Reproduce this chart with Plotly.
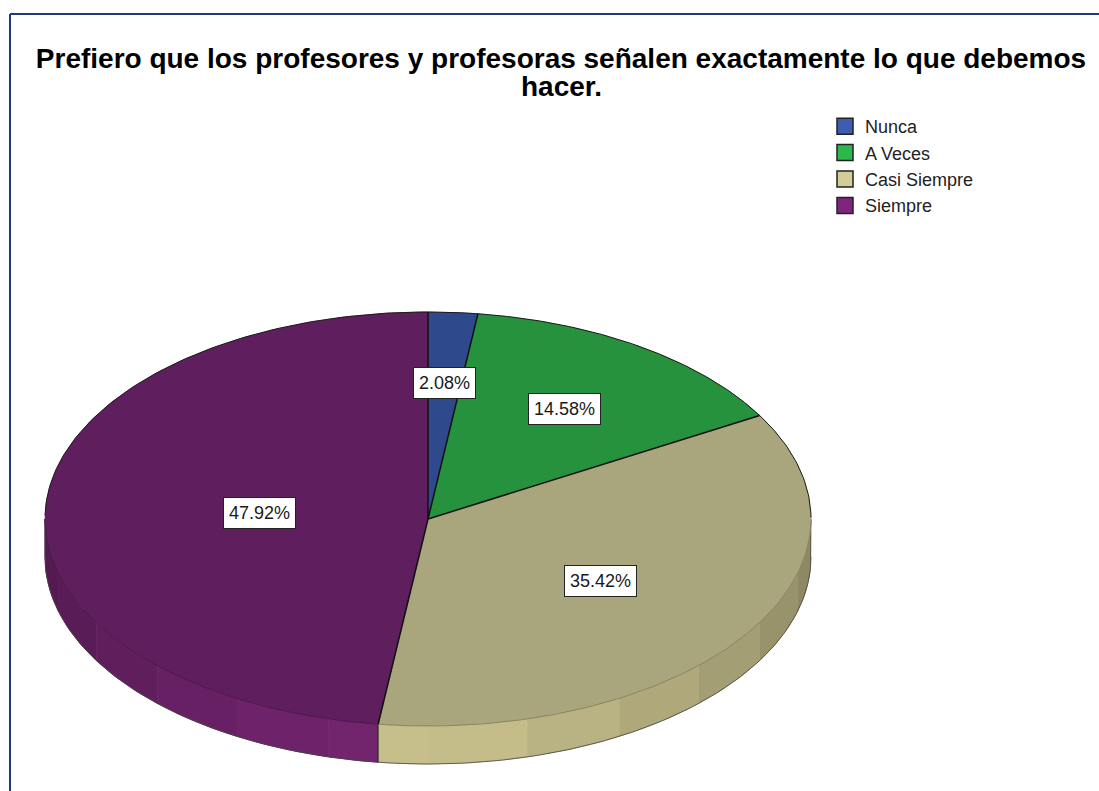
"""Pie chart with a tilted 3D look, in the style of an SPSS export."""

import numpy as np
import plotly.graph_objects as go

TITLE_LINES = ["Prefiero que los profesores y profesoras señalen exactamente lo que debemos", "hacer."]
categories = ["Nunca", "A Veces", "Casi Siempre", "Siempre"]
percentages = [2.08, 14.58, 35.42, 47.92]

top_colors = ["#2f4a8c", "#26923e", "#a9a57c", "#5f1f5f"]
side_colors = ["#3e5cb0", "#2db84d", "#c9c28d", "#772572"]
legend_colors = ["#3e5cb0", "#2db84d", "#d3ce97", "#7f2580"]

# Ellipse geometry in page pixels
CX, CY = 428, 519
RX, RY = 383, 207
DEPTH = 38
BAND_STEP = 15
# How far out each label sits, as a fraction of the radius
label_radius = [0.66, 0.64, 0.54, 0.44]
FONT = "Liberation Sans"


def ellipse(angles, drop=0):
    """Angles are degrees clockwise from the top of the pie."""
    rad = np.radians(angles)
    return CX + RX * np.sin(rad), CY - RY * np.cos(rad) + drop


def shade(color, factor):
    rgb = [int(color[i:i + 2], 16) for i in (1, 3, 5)]
    return "rgb({},{},{})".format(*[round(c * factor) for c in rgb])


def add_line(fig, x, y, color, width):
    fig.add_trace(go.Scatter(
        x=x, y=y, mode="lines",
        line=dict(color=color, width=width),
        hoverinfo="skip", showlegend=False,
    ))


fig = go.Figure()

edges = np.cumsum([0] + percentages) / sum(percentages) * 360

# Visible side wall, split into flat bands
for i in range(len(categories)):
    start, end = max(edges[i], 90), min(edges[i + 1], 270)
    if start >= end:
        continue
    cuts = [a for a in np.arange(90, 271, BAND_STEP) if start < a < end]
    steps = [start] + cuts + [end]
    for a0, a1 in zip(steps[:-1], steps[1:]):
        arc = np.linspace(a0, a1, 12)
        xt, yt = ellipse(arc)
        xb, yb = ellipse(arc[::-1], DEPTH)
        band = shade(side_colors[i], 1 - 0.32 * abs((a0 + a1) / 2 - 180) / 90)
        fig.add_trace(go.Scatter(
            x=np.concatenate([xt, xb]),
            y=np.concatenate([yt, yb]),
            mode="lines",
            fill="toself",
            fillcolor=band,
            line=dict(color=band, width=1),
            hoverinfo="skip",
            showlegend=False,
        ))

# Outline of the side wall
arc = np.linspace(90, 270, 200)
xb, yb = ellipse(arc, DEPTH)
xe, ye = ellipse(np.array([90.0]))
xw, yw = ellipse(np.array([270.0]))
add_line(fig, np.concatenate([xe, xb, xw]), np.concatenate([ye, yb, yw]), "#444444", 0.8)

# Side seam under the slice boundaries on the near half
for a in edges[1:-1]:
    if 90 < a < 270:
        xs, ys = ellipse(np.array([a, a]), np.array([0, DEPTH]))
        add_line(fig, xs, ys, "#222222", 1)

# Top face
for i, name in enumerate(categories):
    arc = np.linspace(edges[i], edges[i + 1], 160)
    xs, ys = ellipse(arc)
    fig.add_trace(go.Scatter(
        x=np.concatenate([[CX], xs, [CX]]),
        y=np.concatenate([[CY], ys, [CY]]),
        mode="lines",
        fill="toself",
        fillcolor=top_colors[i],
        line=dict(color=top_colors[i], width=0.5),
        name=name,
        text=f"{name}: {percentages[i]:.2f}%",
        hoverinfo="text",
        showlegend=False,
    ))

# Rim of the top face: dark on the far half, faint on the near half
for i in range(len(categories)):
    far = np.linspace(edges[i], edges[i + 1], 160)
    far = far[(far <= 90) | (far >= 270)]
    if far.size:
        xs, ys = ellipse(far)
        add_line(fig, xs, ys, "#1a1a1a", 1)
    near = np.linspace(edges[i], edges[i + 1], 160)
    near = near[(near > 90) & (near < 270)]
    if near.size:
        xs, ys = ellipse(near)
        add_line(fig, xs, ys, shade(top_colors[i], 0.75), 0.8)

# Spokes between the slices
for a in edges[:-1]:
    xs, ys = ellipse(np.array([a]))
    add_line(fig, [CX, xs[0]], [CY, ys[0]], "#111111", 1.5)

# Legend entries
for name, color in zip(categories, legend_colors):
    fig.add_trace(go.Scatter(
        x=[None], y=[None],
        mode="markers",
        marker=dict(symbol="square", size=18, color=color, line=dict(color="#222222", width=1.5)),
        name=name,
    ))

# Percentage labels
for i, pct in enumerate(percentages):
    rad = np.radians((edges[i] + edges[i + 1]) / 2)
    fig.add_annotation(
        x=CX + RX * label_radius[i] * np.sin(rad),
        y=CY - RY * label_radius[i] * np.cos(rad),
        text=f"{pct:.2f}%",
        showarrow=False,
        font=dict(family=FONT, size=18, color="#1a1a1a"),
        bgcolor="white",
        bordercolor="#222222",
        borderwidth=1,
        borderpad=5,
    )

# Second title line sits closer than a <br> would put it
fig.add_annotation(
    x=561, y=86,
    text=f"<b>{TITLE_LINES[1]}</b>",
    showarrow=False,
    font=dict(family=FONT, size=28, color="black"),
)

fig.update_layout(
    title=dict(
        text=TITLE_LINES[0],
        x=561 / 1099, xanchor="center",
        y=1 - 58 / 791, yanchor="middle",
        font=dict(family=FONT, size=28, color="black", weight="bold"),
    ),
    font=dict(family=FONT),
    width=1099,
    height=791,
    margin=dict(l=0, r=0, t=0, b=0),
    paper_bgcolor="white",
    plot_bgcolor="white",
    xaxis=dict(range=[0, 1099], visible=False, fixedrange=True),
    yaxis=dict(range=[791, 0], visible=False, fixedrange=True),
    legend=dict(
        x=825 / 1099, xanchor="left",
        y=1 - 108 / 791, yanchor="top",
        font=dict(family=FONT, size=18, color="#222222"),
        bgcolor="rgba(0,0,0,0)",
    ),
    shapes=[
        dict(type="line", x0=10, x1=1099, y0=14, y1=14, line=dict(color="#1d3a7c", width=2)),
        dict(type="line", x0=10, x1=10, y0=14, y1=791, line=dict(color="#1d3a7c", width=2)),
    ],
)

fig.write_html(
    "out.html",
    config={"displayModeBar": False},
    post_script="document.body.style.margin = '0';",
)
